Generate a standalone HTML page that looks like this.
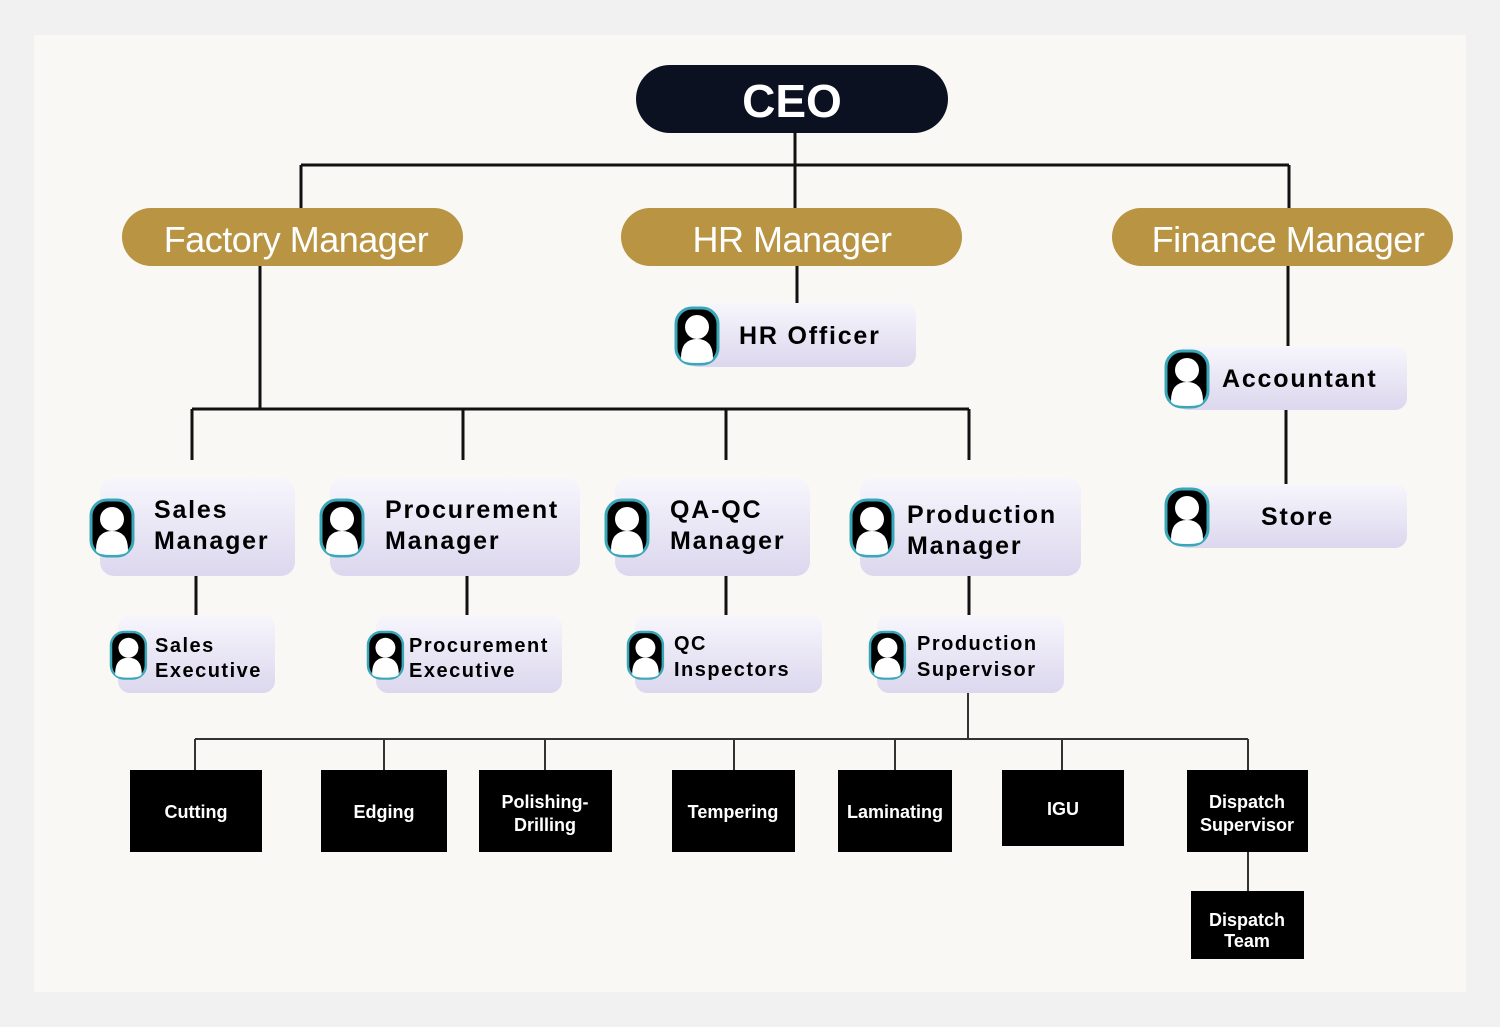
<!DOCTYPE html>
<html><head><meta charset="utf-8"><style>
html,body{margin:0;padding:0;background:#f1f1f2;}
svg{display:block}
text{font-family:"Liberation Sans","DejaVu Sans",sans-serif;}
</style></head><body>
<svg width="1500" height="1027" viewBox="0 0 1500 1027" xmlns="http://www.w3.org/2000/svg">
<defs>
<linearGradient id="card" x1="0" y1="0" x2="0" y2="1">
<stop offset="0" stop-color="#f7f6fc"/><stop offset="1" stop-color="#dcd7ee"/>
</linearGradient>
<g id="ic">
<rect x="0" y="0" width="42" height="56" rx="16" fill="#000" stroke="#3aa7b8" stroke-width="3"/>
<circle cx="21" cy="19" r="12" fill="#fff"/>
<path d="M5 50 Q5 31 21 31 Q37 31 37 50 Q37 55 21 55 Q5 55 5 50Z" fill="#fff"/>
</g>
</defs>
<rect width="1500" height="1027" fill="#f1f1f2"/>
<rect x="34" y="35" width="1432" height="957" fill="#faf8f5"/>
<g stroke="#111" stroke-width="3" fill="none">
<path d="M795 133V208M301 165H1289M301 165V208M1289 165V208"/>
<path d="M260 266V409M192 409H969M192 409V460M463 409V460M726 409V460M969 409V460"/>
<path d="M797 266V303M1288 266V346M1286 410V484"/>
<path d="M196 576V615M467 576V615M726 576V615M969 576V615"/>
</g>
<g stroke="#333" stroke-width="2" fill="none">
<path d="M968 693V739M195 739H1248M195 739V770M384 739V770M545 739V770M734 739V770M895 739V770M1062 739V770M1248 739V770M1248 852V891"/>
</g>
<rect x="636" y="65" width="312" height="68" rx="34" fill="#0b1120"/>
<text x="792" y="117" font-size="46" font-weight="bold" fill="#fff" text-anchor="middle">CEO</text>
<g fill="#b89443">
<rect x="122" y="208" width="341" height="58" rx="29"/>
<rect x="621" y="208" width="341" height="58" rx="29"/>
<rect x="1112" y="208" width="341" height="58" rx="29"/>
</g>
<g fill="#fff" font-size="36" text-anchor="middle" letter-spacing="-0.5">
<text x="296" y="252">Factory Manager</text>
<text x="792" y="252">HR Manager</text>
<text x="1288" y="252">Finance Manager</text>
</g>
<g fill="url(#card)">
<rect x="686" y="303" width="230" height="64" rx="12"/>
<rect x="1176" y="346" width="231" height="64" rx="12"/>
<rect x="1176" y="484" width="231" height="64" rx="12"/>
<rect x="100" y="478" width="195" height="98" rx="14"/>
<rect x="330" y="478" width="250" height="98" rx="14"/>
<rect x="615" y="478" width="195" height="98" rx="14"/>
<rect x="860" y="478" width="221" height="98" rx="14"/>
<rect x="118" y="615" width="157" height="78" rx="12"/>
<rect x="376" y="615" width="186" height="78" rx="12"/>
<rect x="635" y="615" width="187" height="78" rx="12"/>
<rect x="877" y="615" width="187" height="78" rx="12"/>
</g>
<use href="#ic" x="676" y="308"/>
<use href="#ic" x="1166" y="351"/>
<use href="#ic" x="1166" y="489"/>
<use href="#ic" x="91" y="500"/>
<use href="#ic" x="321" y="500"/>
<use href="#ic" x="606" y="500"/>
<use href="#ic" x="851" y="500"/>
<use href="#ic" transform="translate(111 632) scale(0.83)"/>
<use href="#ic" transform="translate(368 632) scale(0.83)"/>
<use href="#ic" transform="translate(628 632) scale(0.83)"/>
<use href="#ic" transform="translate(870 632) scale(0.83)"/>
<g fill="#000" font-weight="bold" font-size="25" letter-spacing="1.8">
<text x="739" y="344">HR Officer</text>
<text x="1222" y="387">Accountant</text>
<text x="1261" y="525">Store</text>
<text x="154" y="518">Sales</text><text x="154" y="549">Manager</text>
<text x="385" y="518">Procurement</text><text x="385" y="549">Manager</text>
<text x="670" y="518">QA-QC</text><text x="670" y="549">Manager</text>
<text x="907" y="523">Production</text><text x="907" y="554">Manager</text>
</g>
<g fill="#000" font-weight="bold" font-size="20" letter-spacing="1.5">
<text x="155" y="652">Sales</text><text x="155" y="677">Executive</text>
<text x="409" y="652">Procurement</text><text x="409" y="677">Executive</text>
<text x="674" y="650">QC</text><text x="674" y="676">Inspectors</text>
<text x="917" y="650">Production</text><text x="917" y="676">Supervisor</text>
</g>
<g fill="#000">
<rect x="130" y="770" width="132" height="82"/>
<rect x="321" y="770" width="126" height="82"/>
<rect x="479" y="770" width="133" height="82"/>
<rect x="672" y="770" width="123" height="82"/>
<rect x="838" y="770" width="114" height="82"/>
<rect x="1002" y="770" width="122" height="76"/>
<rect x="1187" y="770" width="121" height="82"/>
<rect x="1191" y="891" width="113" height="68"/>
</g>
<g fill="#fff" font-weight="bold" font-size="18" text-anchor="middle">
<text x="196" y="818">Cutting</text>
<text x="384" y="818">Edging</text>
<text x="545" y="808">Polishing-</text><text x="545" y="831">Drilling</text>
<text x="733" y="818">Tempering</text>
<text x="895" y="818">Laminating</text>
<text x="1063" y="815">IGU</text>
<text x="1247" y="808">Dispatch</text><text x="1247" y="831">Supervisor</text>
<text x="1247" y="926">Dispatch</text><text x="1247" y="947">Team</text>
</g>
</svg>
</body></html>
